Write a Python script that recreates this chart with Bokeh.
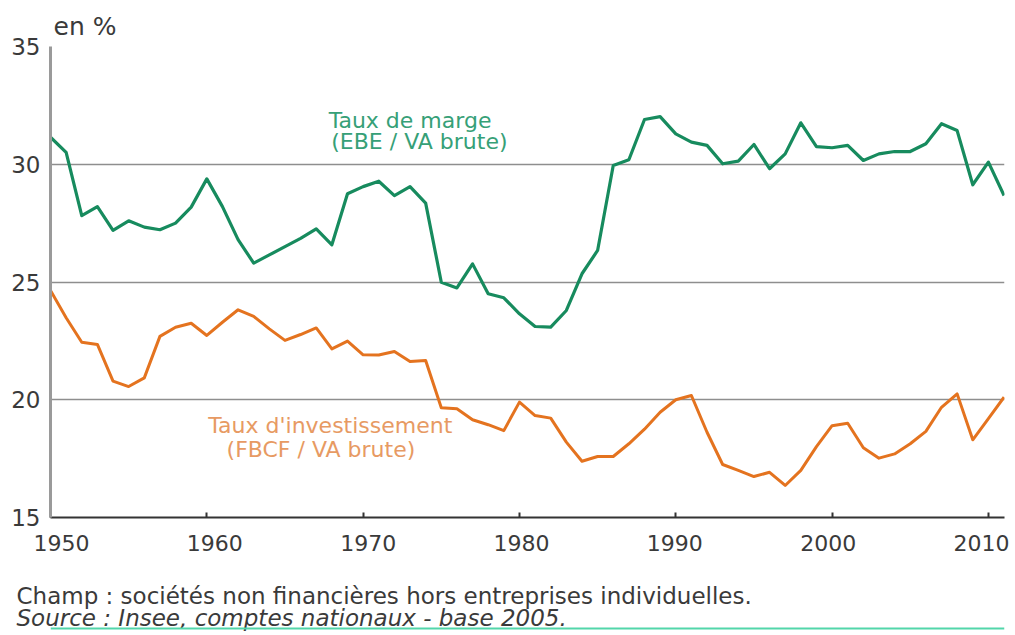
from bokeh.plotting import figure
from bokeh.layouts import column
from bokeh.models import Range1d, Label, LinearAxis, FixedTicker, Title, Span
from bokeh.embed import file_html
from bokeh.resources import INLINE

# ---------------- data ----------------
years = list(range(1950, 2012))

taux_marge = [
    31.15, 30.50, 27.82, 28.20, 27.19, 27.60, 27.33, 27.22, 27.50, 28.18,
    29.38, 28.20, 26.80, 25.80, 26.15, 26.50, 26.85, 27.26, 26.58, 28.75,
    29.05, 29.28, 28.67, 29.05, 28.35, 24.99, 24.75, 25.77, 24.50, 24.33,
    23.65, 23.11, 23.08, 23.79, 25.35, 26.34, 29.95, 30.19, 31.90, 32.02,
    31.29, 30.94, 30.80, 30.02, 30.13, 30.84, 29.81, 30.44, 31.76, 30.75,
    30.70, 30.80, 30.16, 30.44, 30.54, 30.54, 30.87, 31.72, 31.43, 29.13,
    30.09, 28.67,
]

taux_invest = [
    24.64, 23.48, 22.44, 22.35, 20.79, 20.56, 20.93, 22.69, 23.08, 23.25,
    22.73, 23.29, 23.82, 23.54, 23.01, 22.52, 22.77, 23.05, 22.16, 22.49,
    21.91, 21.90, 22.05, 21.62, 21.67, 19.66, 19.62, 19.15, 18.94, 18.69,
    19.90, 19.33, 19.22, 18.20, 17.39, 17.59, 17.59, 18.13, 18.75, 19.47,
    20.00, 20.18, 18.62, 17.25, 17.00, 16.74, 16.92, 16.36, 17.00, 18.01,
    18.90, 19.00, 17.96, 17.52, 17.70, 18.13, 18.66, 19.68, 20.25, 18.30,
    19.20, 20.11,
]

x_ticks = [1950, 1960, 1970, 1980, 1990, 2000, 2010]
y_ticks = [15, 20, 25, 30, 35]

label_marge = ["Taux de marge", "(EBE / VA brute)"]
label_invest = ["Taux d'investissement", "(FBCF / VA brute)"]
unit_text = "en %"
note_champ = "Champ : sociétés non financières hors entreprises individuelles."
note_source = "Source  : Insee, comptes nationaux - base 2005."

# ---------------- styles ----------------
GREEN = "#178b5e"
GREEN_TXT = "#36a077"
ORANGE = "#e4731f"
ORANGE_TXT = "#e79a63"
TXT = "#3a3a3a"
FONT = "DejaVu Sans"
W = 1012

p = figure(width=W, height=575, output_backend="svg", toolbar_location=None,
           x_range=Range1d(1950, 2011.03), y_range=Range1d(15, 35),
           min_border_left=50, min_border_right=8, min_border_top=46,
           min_border_bottom=58)
p.outline_line_color = None
p.background_fill_color = "white"
p.border_fill_color = "white"

# grid
p.xgrid.grid_line_color = None
p.ygrid.ticker = FixedTicker(ticks=y_ticks)
p.ygrid.grid_line_color = "#8e8e8e"
p.ygrid.grid_line_width = 1.4

# y axis
p.yaxis.ticker = FixedTicker(ticks=y_ticks)
p.yaxis.axis_line_color = "#9a9a9a"
p.yaxis.axis_line_width = 3
p.yaxis.major_tick_line_color = None
p.yaxis.minor_tick_line_color = None
p.yaxis.major_label_standoff = 4
p.yaxis.major_label_text_font = FONT
p.yaxis.major_label_text_font_size = "23px"
p.yaxis.major_label_text_color = TXT

# main x axis: line + inward ticks only (labels carried by the second axis)
p.xaxis.ticker = FixedTicker(ticks=x_ticks)
p.xaxis.axis_line_color = "#333333"
p.xaxis.axis_line_width = 2
p.xaxis.major_tick_line_color = "#333333"
p.xaxis.major_tick_line_width = 2
p.xaxis.major_tick_in = 5
p.xaxis.major_tick_out = 0
p.xaxis.minor_tick_line_color = None
p.xaxis.major_label_overrides = {t: "" for t in x_ticks}
p.xaxis.major_label_standoff = 0

# second x axis carrying the year labels (slightly tighter spacing as in the source)
p.extra_x_ranges = {"lab": Range1d(1949.283, 2011.50)}
lab_axis = LinearAxis(x_range_name="lab", ticker=FixedTicker(ticks=x_ticks))
lab_axis.axis_line_color = None
lab_axis.major_tick_line_color = None
lab_axis.minor_tick_line_color = None
lab_axis.major_label_standoff = 11
lab_axis.major_label_text_font = FONT
lab_axis.major_label_text_font_size = "22px"
lab_axis.major_label_text_color = TXT
p.add_layout(lab_axis, "below")

# unit title above
p.add_layout(Title(text=unit_text, align="left", offset=3, standoff=11,
                   text_font=FONT, text_font_size="25px", text_font_style="normal",
                   text_color=TXT), "above")

# series
p.line(years, taux_marge, line_color=GREEN, line_width=3.2, line_join="round")
p.line(years, taux_invest, line_color=ORANGE, line_width=3.0, line_join="round")

# series annotations
def add_text(txt, x, y, color, size):
    p.add_layout(Label(x=x, y=y, text=txt, text_color=color, text_font=FONT,
                       text_font_size=size, text_align="center",
                       text_baseline="alphabetic"))

add_text(label_marge[0], 1973.0, 31.87, GREEN_TXT, "22px")
add_text(label_marge[1], 1973.6, 30.98, GREEN_TXT, "22px")
add_text(label_invest[0], 1967.9, 18.90, ORANGE_TXT, "22px")
add_text(label_invest[1], 1967.3, 17.88, ORANGE_TXT, "22px")

# ---------------- notes strip ----------------
NH = 58
notes = figure(width=W, height=NH, output_backend="svg", toolbar_location=None,
               x_range=Range1d(0, 1), y_range=Range1d(0, 6),
               x_axis_type=None, y_axis_type=None,
               min_border_left=50, min_border_right=8,
               min_border_top=52, min_border_bottom=0)
notes.outline_line_color = None
notes.xgrid.grid_line_color = None
notes.ygrid.grid_line_color = None
notes.background_fill_color = "white"
notes.border_fill_color = "white"

# first "above" title sits nearest the frame (bottom line)
notes.add_layout(Title(text=note_source, align="left", offset=-34, standoff=-6,
                       text_font=FONT, text_font_size="23px", text_font_style="italic",
                       text_color=TXT), "above")
notes.add_layout(Title(text=note_champ, align="left", offset=-34, standoff=-6,
                       text_font=FONT, text_font_size="23px", text_font_style="normal",
                       text_color=TXT), "above")
notes.add_layout(Span(location=5.2, dimension="width", line_color="#52d6aa",
                      line_width=2.5))

layout = column(p, notes, spacing=0)
open("out.html", "w").write(file_html(layout, INLINE))
